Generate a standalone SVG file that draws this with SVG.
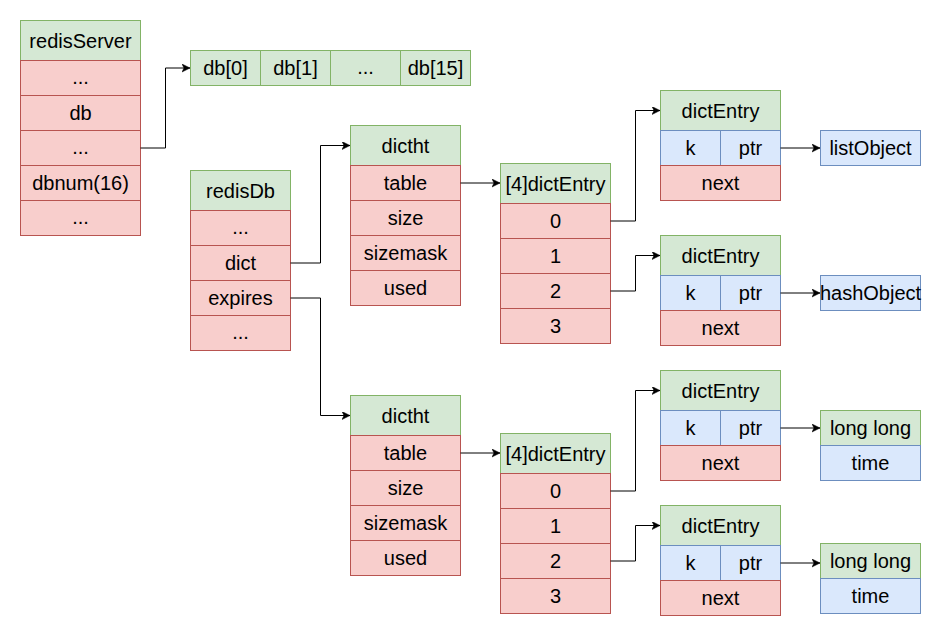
<svg xmlns="http://www.w3.org/2000/svg" width="941" height="636" viewBox="0 0 941 636">
  <style>
    .g { fill: #d5e8d4; stroke: #82b366; stroke-width: 1; }
    .r { fill: #f8cecc; stroke: #b85450; stroke-width: 1; }
    .b { fill: #dae8fc; stroke: #6c8ebf; stroke-width: 1; }
    text { font-family: "Liberation Sans", Arial, Helvetica, sans-serif; font-size: 20px; fill: #000; text-anchor: middle; dominant-baseline: central; }
    .edge { fill: none; stroke: #000; stroke-width: 1; marker-end: url(#arrow); }
  </style>
  <defs>
    <marker id="arrow" markerUnits="userSpaceOnUse" markerWidth="10" markerHeight="10" refX="8" refY="4" orient="auto">
      <path d="M0,0 L8,4 L0,8 L2,4 Z" fill="#000" stroke="#000" stroke-width="0.5"/>
    </marker>
  </defs>
  <rect width="941" height="636" fill="#fff"/>

  <!-- redisServer struct -->
  <g id="redisServer">
    <rect class="g" x="20.5" y="20.5" width="120" height="40"/>
    <text x="80.5" y="40.5">redisServer</text>
    <rect class="r" x="20.5" y="60.5" width="120" height="35"/>
    <text x="80.5" y="77">...</text>
    <rect class="r" x="20.5" y="95.5" width="120" height="35"/>
    <text x="80.5" y="113">db</text>
    <rect class="r" x="20.5" y="130.5" width="120" height="35"/>
    <text x="80.5" y="147">...</text>
    <rect class="r" x="20.5" y="165.5" width="120" height="35"/>
    <text x="80.5" y="183">dbnum(16)</text>
    <rect class="r" x="20.5" y="200.5" width="120" height="35"/>
    <text x="80.5" y="217">...</text>
  </g>

  <!-- db array -->
  <g id="dbArray">
    <rect class="g" x="190.5" y="50.5" width="70" height="35"/>
    <text x="225.5" y="68">db[0]</text>
    <rect class="g" x="260.5" y="50.5" width="70" height="35"/>
    <text x="295.5" y="68">db[1]</text>
    <rect class="g" x="330.5" y="50.5" width="70" height="35"/>
    <text x="365.5" y="67">...</text>
    <rect class="g" x="400.5" y="50.5" width="70" height="35"/>
    <text x="435.5" y="68">db[15]</text>
  </g>

  <!-- redisDb struct -->
  <g id="redisDb">
    <rect class="g" x="190.5" y="170.5" width="100" height="40"/>
    <text x="240.5" y="190.5">redisDb</text>
    <rect class="r" x="190.5" y="210.5" width="100" height="35"/>
    <text x="240.5" y="227">...</text>
    <rect class="r" x="190.5" y="245.5" width="100" height="35"/>
    <text x="240.5" y="263">dict</text>
    <rect class="r" x="190.5" y="280.5" width="100" height="35"/>
    <text x="240.5" y="298">expires</text>
    <rect class="r" x="190.5" y="315.5" width="100" height="35"/>
    <text x="240.5" y="332">...</text>
  </g>

  <!-- dictht for dict -->
  <g id="dictht1">
    <rect class="g" x="350.5" y="125.5" width="110" height="40"/>
    <text x="405.5" y="145.5">dictht</text>
    <rect class="r" x="350.5" y="165.5" width="110" height="35"/>
    <text x="405.5" y="183">table</text>
    <rect class="r" x="350.5" y="200.5" width="110" height="35"/>
    <text x="405.5" y="218">size</text>
    <rect class="r" x="350.5" y="235.5" width="110" height="35"/>
    <text x="405.5" y="253">sizemask</text>
    <rect class="r" x="350.5" y="270.5" width="110" height="35"/>
    <text x="405.5" y="288">used</text>
  </g>

  <!-- dictht for expires -->
  <g id="dictht2">
    <rect class="g" x="350.5" y="395.5" width="110" height="40"/>
    <text x="405.5" y="415.5">dictht</text>
    <rect class="r" x="350.5" y="435.5" width="110" height="35"/>
    <text x="405.5" y="453">table</text>
    <rect class="r" x="350.5" y="470.5" width="110" height="35"/>
    <text x="405.5" y="488">size</text>
    <rect class="r" x="350.5" y="505.5" width="110" height="35"/>
    <text x="405.5" y="523">sizemask</text>
    <rect class="r" x="350.5" y="540.5" width="110" height="35"/>
    <text x="405.5" y="558">used</text>
  </g>

  <!-- bucket array for dict -->
  <g id="table1">
    <rect class="g" x="500.5" y="163.5" width="110" height="40"/>
    <text x="555.5" y="183.5">[4]dictEntry</text>
    <rect class="r" x="500.5" y="203.5" width="110" height="35"/>
    <text x="555.5" y="221">0</text>
    <rect class="r" x="500.5" y="238.5" width="110" height="35"/>
    <text x="555.5" y="256">1</text>
    <rect class="r" x="500.5" y="273.5" width="110" height="35"/>
    <text x="555.5" y="291">2</text>
    <rect class="r" x="500.5" y="308.5" width="110" height="35"/>
    <text x="555.5" y="326">3</text>
  </g>

  <!-- bucket array for expires -->
  <g id="table2">
    <rect class="g" x="500.5" y="433.5" width="110" height="40"/>
    <text x="555.5" y="453.5">[4]dictEntry</text>
    <rect class="r" x="500.5" y="473.5" width="110" height="35"/>
    <text x="555.5" y="491">0</text>
    <rect class="r" x="500.5" y="508.5" width="110" height="35"/>
    <text x="555.5" y="526">1</text>
    <rect class="r" x="500.5" y="543.5" width="110" height="35"/>
    <text x="555.5" y="561">2</text>
    <rect class="r" x="500.5" y="578.5" width="110" height="35"/>
    <text x="555.5" y="596">3</text>
  </g>

  <!-- dictEntry nodes -->
  <g id="entry1">
    <rect class="g" x="660.5" y="90.5" width="120" height="40"/>
    <text x="720.5" y="110.5">dictEntry</text>
    <rect class="b" x="660.5" y="130.5" width="60" height="35"/>
    <text x="690.5" y="148">k</text>
    <rect class="b" x="720.5" y="130.5" width="60" height="35"/>
    <text x="750.5" y="148">ptr</text>
    <rect class="r" x="660.5" y="165.5" width="120" height="35"/>
    <text x="720.5" y="183">next</text>
  </g>
  <g id="entry2">
    <rect class="g" x="660.5" y="235.5" width="120" height="40"/>
    <text x="720.5" y="255.5">dictEntry</text>
    <rect class="b" x="660.5" y="275.5" width="60" height="35"/>
    <text x="690.5" y="293">k</text>
    <rect class="b" x="720.5" y="275.5" width="60" height="35"/>
    <text x="750.5" y="293">ptr</text>
    <rect class="r" x="660.5" y="310.5" width="120" height="35"/>
    <text x="720.5" y="328">next</text>
  </g>
  <g id="entry3">
    <rect class="g" x="660.5" y="370.5" width="120" height="40"/>
    <text x="720.5" y="390.5">dictEntry</text>
    <rect class="b" x="660.5" y="410.5" width="60" height="35"/>
    <text x="690.5" y="428">k</text>
    <rect class="b" x="720.5" y="410.5" width="60" height="35"/>
    <text x="750.5" y="428">ptr</text>
    <rect class="r" x="660.5" y="445.5" width="120" height="35"/>
    <text x="720.5" y="463">next</text>
  </g>
  <g id="entry4">
    <rect class="g" x="660.5" y="505.5" width="120" height="40"/>
    <text x="720.5" y="525.5">dictEntry</text>
    <rect class="b" x="660.5" y="545.5" width="60" height="35"/>
    <text x="690.5" y="563">k</text>
    <rect class="b" x="720.5" y="545.5" width="60" height="35"/>
    <text x="750.5" y="563">ptr</text>
    <rect class="r" x="660.5" y="580.5" width="120" height="35"/>
    <text x="720.5" y="598">next</text>
  </g>

  <!-- value objects -->
  <g id="listObject">
    <rect class="b" x="820.5" y="130.5" width="100" height="35"/>
    <text x="870.5" y="148">listObject</text>
  </g>
  <g id="hashObject">
    <rect class="b" x="820.5" y="275.5" width="100" height="35"/>
    <text x="870.5" y="293">hashObject</text>
  </g>
  <g id="expire1">
    <rect class="g" x="820.5" y="410.5" width="100" height="35"/>
    <text x="870.5" y="428">long long</text>
    <rect class="b" x="820.5" y="445.5" width="100" height="35"/>
    <text x="870.5" y="463">time</text>
  </g>
  <g id="expire2">
    <rect class="g" x="820.5" y="543.5" width="100" height="35"/>
    <text x="870.5" y="561">long long</text>
    <rect class="b" x="820.5" y="578.5" width="100" height="35"/>
    <text x="870.5" y="596">time</text>
  </g>

  <!-- pointers -->
  <g id="connectors">
    <path class="edge" d="M140.5,148 H165.5 V68 H190"/>
    <path class="edge" d="M290.5,263 H320.5 V145.5 H350"/>
    <path class="edge" d="M290.5,298 H320.5 V415.5 H350"/>
    <path class="edge" d="M460.5,183 H500"/>
    <path class="edge" d="M460.5,453 H500"/>
    <path class="edge" d="M610.5,221 H635.5 V110.5 H660"/>
    <path class="edge" d="M610.5,291 H635.5 V255.5 H660"/>
    <path class="edge" d="M610.5,491 H635.5 V390.5 H660"/>
    <path class="edge" d="M610.5,561 H635.5 V525.5 H660"/>
    <path class="edge" d="M780.5,148 H820"/>
    <path class="edge" d="M780.5,293 H820"/>
    <path class="edge" d="M780.5,428 H820"/>
    <path class="edge" d="M780.5,563 H820"/>
  </g>
</svg>
